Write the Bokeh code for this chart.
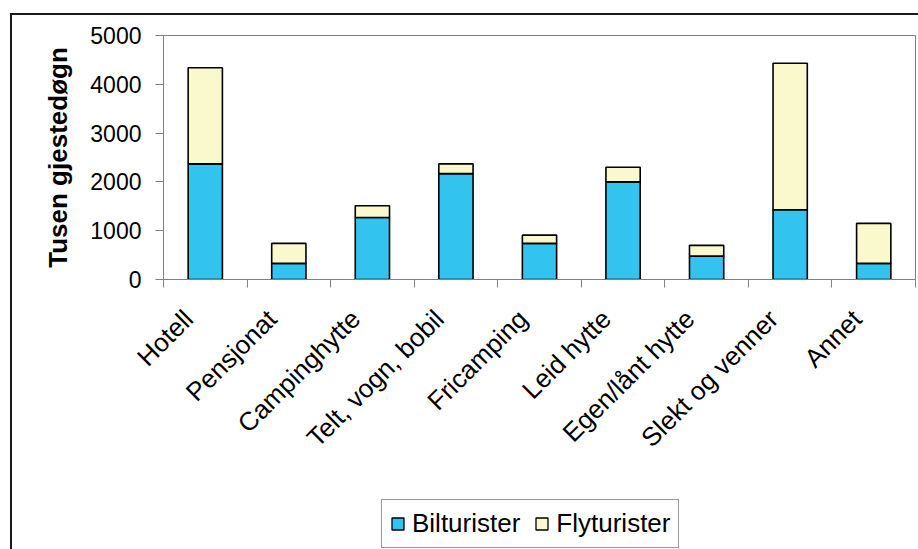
import math
from bokeh.plotting import figure
from bokeh.layouts import column
from bokeh.models import ColumnDataSource, Range1d, FixedTicker, Legend, LegendItem
from bokeh.embed import file_html
from bokeh.resources import INLINE

categories = ["Hotell", "Pensjonat", "Campinghytte", "Telt, vogn, bobil", "Fricamping",
              "Leid hytte", "Egen/lånt hytte", "Slekt og venner", "Annet"]
bilturister = [2370, 330, 1270, 2170, 740, 2000, 480, 1430, 330]
flyturister = [1970, 410, 240, 200, 170, 300, 220, 3000, 820]
series_names = ["Bilturister", "Flyturister"]
series_cols = ["bil", "fly"]
y_ticks = [0, 1000, 2000, 3000, 4000, 5000]

BLUE = "#33C3EF"
CREAM = "#FAF8CD"
COLORS = [BLUE, CREAM]
FONT = "Liberation Sans"
BORDER = "2px solid #1a1a1a"
LABEL_SHIFT = 0.2  # rotated labels sit slightly left of the category centre

xs = list(range(1, len(categories) + 1))
source = ColumnDataSource(dict(x=xs, bil=bilturister, fly=flyturister))

p = figure(width=906, height=460, output_backend="svg", toolbar_location=None,
           x_range=Range1d(0.5, len(categories) + 0.5), y_range=Range1d(0, 5000),
           min_border_left=151, min_border_right=3, min_border_top=20, min_border_bottom=196)

renderers = p.vbar_stack(series_cols, x="x", width=0.41, source=source,
                         fill_color=COLORS, line_color="black", line_width=1.6)

p.xgrid.visible = False
p.ygrid.visible = False
p.outline_line_color = "#808080"
p.outline_line_width = 1
p.background_fill_color = "white"
p.border_fill_color = "white"

# y axis
ya = p.yaxis[0]
ya.ticker = FixedTicker(ticks=y_ticks, minor_ticks=[])
ya.axis_line_color = "#808080"
ya.major_tick_line_color = "#808080"
ya.major_tick_out = 8
ya.major_tick_in = 0
ya.minor_tick_line_color = None
ya.major_label_text_font = FONT
ya.major_label_text_font_size = "23px"
ya.major_label_text_color = "black"
ya.major_label_standoff = 14
ya.axis_label = "Tusen gjestedøgn"
ya.axis_label_text_font = FONT
ya.axis_label_text_font_style = "bold"
ya.axis_label_text_font_size = "26px"
ya.axis_label_text_color = "black"
ya.axis_label_standoff = 14

# x axis: labels near centers, ticks at category boundaries
label_pos = [x - LABEL_SHIFT for x in xs]
xa = p.xaxis[0]
xa.ticker = FixedTicker(ticks=label_pos, minor_ticks=[i + 0.5 for i in range(0, len(categories) + 1)])
xa.major_label_overrides = {pos: c for pos, c in zip(label_pos, categories)}
xa.axis_line_color = "#808080"
xa.major_tick_line_color = None
xa.major_tick_out = 0
xa.major_tick_in = 0
xa.minor_tick_line_color = "#808080"
xa.minor_tick_out = 8
xa.minor_tick_in = 0
xa.major_label_orientation = math.pi / 4
xa.major_label_text_font = FONT
xa.major_label_text_font_size = "26px"
xa.major_label_text_color = "black"
xa.major_label_standoff = 27

# legend strip below the chart
lp = figure(width=906, height=74, output_backend="svg", toolbar_location=None,
            x_axis_location=None, y_axis_location=None,
            x_range=Range1d(0, 1), y_range=Range1d(0, 1),
            min_border=0, outline_line_color=None)
lp.xgrid.visible = False
lp.ygrid.visible = False
lp.background_fill_color = "white"
lp.border_fill_color = "white"
items = []
for name, colname, col in zip(series_names, series_cols, COLORS):
    r = lp.vbar(x="x", top=colname, width=0.4, source=source,
                fill_color=col, line_color="black", line_width=1.3, visible=False)
    items.append(LegendItem(label=name, renderers=[r]))

legend = Legend(items=items, location=(218, 1), orientation="horizontal")
legend.label_text_font = FONT
legend.label_text_font_size = "26px"
legend.label_text_color = "black"
legend.border_line_color = "#333333"
legend.border_line_width = 1
legend.background_fill_alpha = 1
legend.inactive_fill_alpha = 0
legend.glyph_width = 15
legend.glyph_height = 15
legend.label_standoff = 7
legend.spacing = 14
legend.padding = 8
legend.margin = 0
legend.label_height = 20
lp.add_layout(legend, "center")

layout = column(p, lp, spacing=0,
                styles={"margin-left": "10px", "margin-top": "13px", "margin-bottom": "-30px",
                        "border-left": BORDER, "border-top": BORDER})

open("out.html", "w").write(file_html(layout, INLINE))
